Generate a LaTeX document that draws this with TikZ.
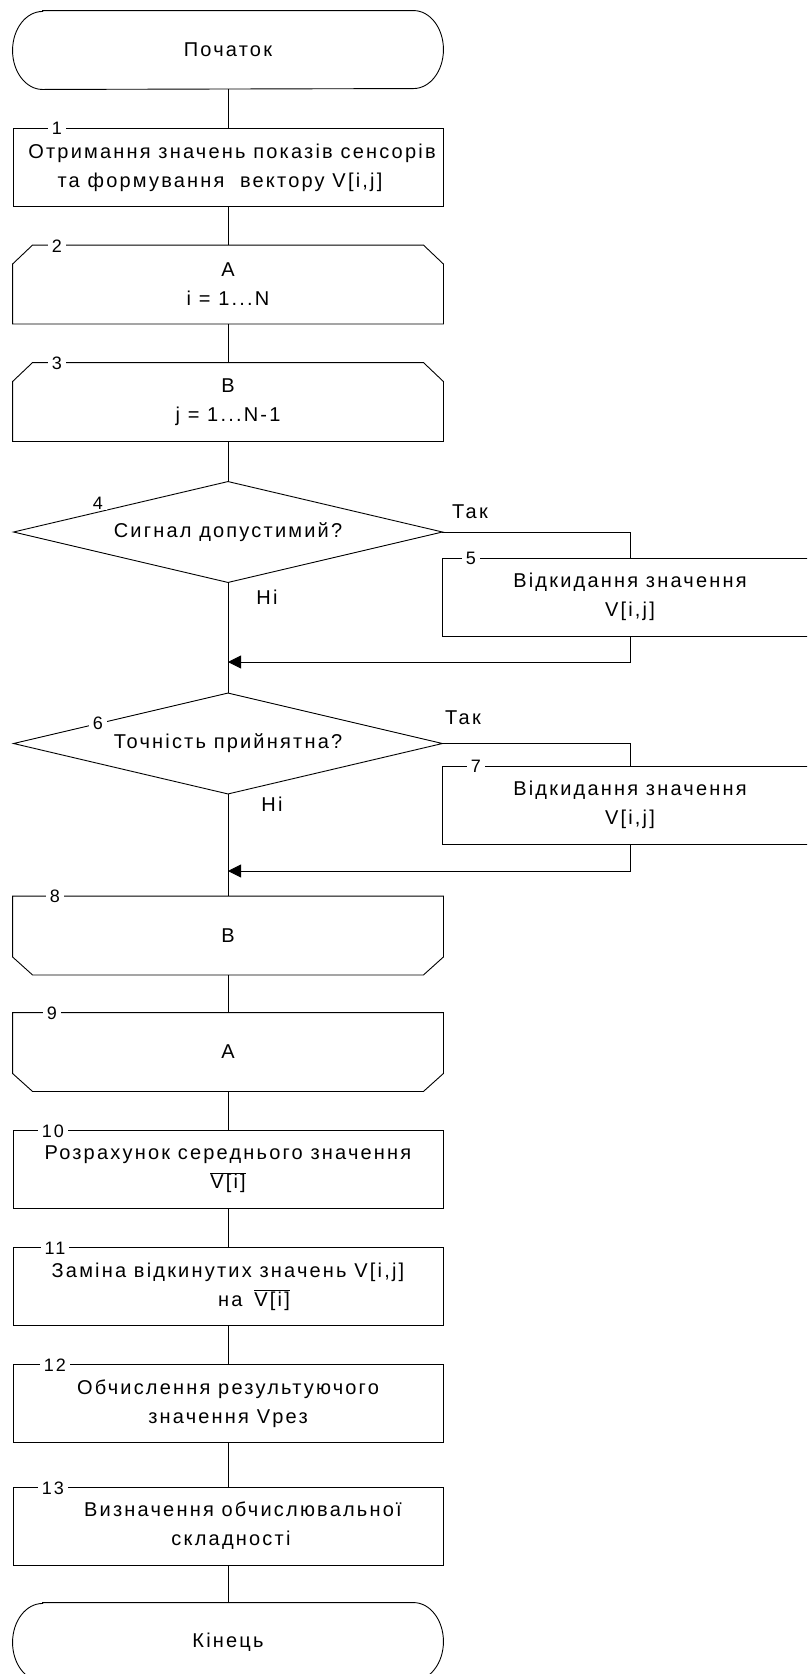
\documentclass[tikz,border=0pt]{standalone}
\usepackage{fontspec}
\setmainfont{Liberation Sans}[LetterSpace=11]
\usetikzlibrary{arrows.meta,calc}

% mean value with a bar over it
\newcommand{\Vavg}{$\overline{\hbox{V[i]}}$}

\begin{document}
\begin{tikzpicture}[x=1pt,y=-1pt,
  line width=0.9pt,
  every node/.style={font=\fontsize{20}{29}\selectfont},
  blk/.style={draw, rectangle, minimum width=430pt, minimum height=78pt,
    align=center, inner sep=0pt},
  term/.style={rectangle, minimum width=430pt, minimum height=78pt,
    align=center, inner sep=0pt},
  loopbox/.style={rectangle, minimum width=430pt, minimum height=78pt,
    align=center, inner sep=0pt},
  sidebox/.style={blk, minimum width=376pt},
  decision/.style={rectangle, minimum width=428pt, minimum height=100pt,
    inner sep=0pt, align=center},
  num/.style={fill=white, inner xsep=4pt, inner ysep=1pt,
    font=\fontsize{18}{18}\selectfont},
  lbl/.style={inner sep=0pt},
  flow/.style={-{Triangle[length=13pt,width=13pt]}}
]
\useasboundingbox (0,0) rectangle (807,1674);
\clip (0,0) rectangle (807,1674);

% main column
\node[term] (st) at (228,50) {Початок};
\node[blk] (b1) at (228,167.5)
  {\hspace*{8pt}Отримання значень показів сенсорів\\
   та формування\ \ вектору V[i,j]\hspace*{16pt}};
\node[loopbox] (b2) at (228,284.5) {A\\i = 1...N};
\node[loopbox] (b3) at (228,402) {B\\j = 1...N-1};
\node[decision] (d4) at (228,532) {Сигнал допустимий?};
\node[sidebox] (b5) at (630,597) {Відкидання значення\\V[i,j]};
\node[decision] (d6) at (228,743.5) {Точність прийнятна?};
\node[sidebox] (b7) at (630,805) {Відкидання значення\\V[i,j]};
\node[loopbox] (b8) at (228,935.5) {B};
\node[loopbox] (b9) at (228,1052) {A};
\node[blk] (b10) at (228,1169.5) {Розрахунок середнього значення\\\Vavg};
\node[blk] (b11) at (228,1286.5)
  {Заміна відкинутих значень V[i,j]\\\hspace*{52pt}на\hspace{12pt}\Vavg};
\node[blk] (b12) at (228,1403.5) {Обчислення результуючого\\значення Vрез};
\node[blk] (b13) at (228,1526)
  {\hspace*{30pt}Визначення обчислювальної\\\hspace*{6pt}складності};
\node[term] (en) at (228,1642) {Кінець};

% terminal outlines with elliptic ends
\foreach \n in {st,en}{
  \draw ($(\n.north west)+(30,0)$) -- ($(\n.north east)+(-30,0)$)
     arc[start angle=90, end angle=-90, x radius=30pt, y radius=39pt]
     -- ($(\n.south west)+(30,0)$)
     arc[start angle=270, end angle=90, x radius=30pt, y radius=39pt]
     -- cycle;
}

% decision outlines
\foreach \n in {d4,d6}{
  \draw (\n.north) -- (\n.east) -- (\n.south) -- (\n.west) -- cycle;
}

% loop limit outlines: opening blocks cut at the top, closing blocks at the bottom
\foreach \n in {b2,b3}{
  \draw ($(\n.north west)+(0,19)$) -- ($(\n.north west)+(20,0)$)
     -- ($(\n.north east)+(-20,0)$) -- ($(\n.north east)+(0,19)$)
     -- (\n.south east) -- (\n.south west) -- cycle;
}
\foreach \n in {b8,b9}{
  \draw (\n.north west) -- (\n.north east)
     -- ($(\n.south east)+(0,-18)$) -- ($(\n.south east)+(-20,0)$)
     -- ($(\n.south west)+(20,0)$) -- ($(\n.south west)+(0,-18)$) -- cycle;
}

% connectors
\draw (st.south) -- (b1.north);
\draw (b1) -- (b2);
\draw (b2) -- (b3);
\draw (b3.south) -- (d4.north);
\draw (d4.east) -| (b5.north);
\coordinate (m1) at (228,662);
\draw (d4.south) -- (d6.north);
\draw[flow] (b5.south) |- (m1);
\draw (d6.east) -| (b7.north);
\coordinate (m2) at (228,871);
\draw (d6.south) -- (b8.north);
\draw[flow] (b7.south) |- (m2);
\draw (b8) -- (b9);
\draw (b9) -- (b10);
\draw (b10) -- (b11);
\draw (b11) -- (b12);
\draw (b12) -- (b13);
\draw (b13.south) -- (en.north);

% branch labels
\node[lbl] (y4) at (470,512) {Так};
\node[lbl] (n4) at (267,597) {Ні};
\node[lbl] (y6) at (463,718) {Так};
\node[lbl] (n6) at (272,804) {Ні};

% block numbers
\node[num] (k1) at (57,128) {1};
\node[num] (k2) at (57,246) {2};
\node[num] (k3) at (57,363) {3};
\node[num] (k4) at (98,503) {4};
\node[num] (k5) at (471,558) {5};
\node[num] (k6) at (98,723) {6};
\node[num] (k7) at (476,766) {7};
\node[num] (k8) at (55,896) {8};
\node[num] (k9) at (52,1013) {9};
\node[num] (k10) at (53,1131) {10};
\node[num] (k11) at (55,1248) {11};
\node[num] (k12) at (55,1365) {12};
\node[num] (k13) at (53,1488) {13};
\end{tikzpicture}
\end{document}
